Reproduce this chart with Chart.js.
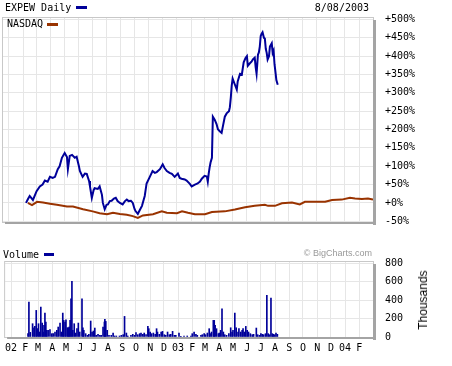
<!DOCTYPE html>
<html>
<head>
<meta charset="utf-8">
<script src="https://cdn.jsdelivr.net/npm/chart.js@4.4.0/dist/chart.umd.min.js"></script>
<style>
body{margin:0;background:#fff;}
#wrap{position:relative;width:452px;height:366px;overflow:hidden;font-family:'DejaVu Sans Mono',monospace;font-size:10px;color:#000;}
canvas{position:absolute;left:0;}
.t{position:absolute;white-space:nowrap;line-height:12px;}
.dash{position:absolute;height:3px;}
</style>
</head>
<body>
<div id="wrap">
  <canvas id="main" width="452" height="240" style="top:0"></canvas>
  <canvas id="vol" width="452" height="126" style="top:240px"></canvas>
  <div class="t" style="left:5px;top:2px">EXPEW Daily</div>
  <div class="dash" style="left:76px;top:6px;width:11px;background:#000099"></div>
  <div class="t" style="right:83px;top:2px">8/08/2003</div>
  <div class="t" style="left:7px;top:18px">NASDAQ</div>
  <div class="dash" style="left:47px;top:23px;width:11px;background:#993300"></div>
  <div class="t" style="left:3px;top:249px">Volume</div>
  <div class="dash" style="left:44px;top:253px;width:10px;background:#000099"></div>
  <div class="t" style="right:80px;top:247px;font-family:'Liberation Sans',sans-serif;font-size:9px;color:#999">© BigCharts.com</div>
  <div class="t" style="left:423px;top:300px;font-family:'Liberation Sans',sans-serif;font-size:12px;transform:translate(-50%,-50%) rotate(-90deg)">Thousands</div>
</div>
<script>
// price change vs first day, in percent
const expewDates = [
  '2002-02-07','2002-02-11','2002-02-15','2002-02-22','2002-02-26','2002-03-02','2002-03-09','2002-03-15',
  '2002-03-20','2002-03-26','2002-03-31','2002-04-06','2002-04-11','2002-04-17','2002-04-21','2002-04-26',
  '2002-05-02','2002-05-07','2002-05-09','2002-05-13','2002-05-18','2002-05-24','2002-05-28','2002-06-02',
  '2002-06-04','2002-06-10','2002-06-15','2002-06-19','2002-06-24','2002-06-26','2002-06-30','2002-07-04',
  '2002-07-06','2002-07-13','2002-07-17','2002-07-22','2002-07-24','2002-07-28','2002-08-01','2002-08-04',
  '2002-08-08','2002-08-12','2002-08-17','2002-08-21','2002-08-25','2002-08-30','2002-09-05','2002-09-10',
  '2002-09-14','2002-09-18','2002-09-23','2002-09-27','2002-10-01','2002-10-03','2002-10-08','2002-10-12',
  '2002-10-17','2002-10-21','2002-10-23','2002-10-27','2002-11-03','2002-11-09','2002-11-14','2002-11-18',
  '2002-11-25','2002-12-01','2002-12-05','2002-12-10','2002-12-16','2002-12-21','2002-12-27','2003-01-03',
  '2003-01-07','2003-01-11','2003-01-18','2003-01-22','2003-01-29','2003-02-02','2003-02-09','2003-02-15',
  '2003-02-20','2003-02-24','2003-03-02','2003-03-07','2003-03-09','2003-03-11','2003-03-13','2003-03-15',
  '2003-03-18','2003-03-20','2003-03-24','2003-03-28','2003-03-31','2003-04-04','2003-04-08','2003-04-11',
  '2003-04-15','2003-04-19','2003-04-24','2003-04-26','2003-04-28','2003-04-30','2003-05-02','2003-05-07',
  '2003-05-11','2003-05-13','2003-05-18','2003-05-22','2003-05-26','2003-05-30','2003-06-02','2003-06-04',
  '2003-06-08','2003-06-12','2003-06-15','2003-06-19','2003-06-21','2003-06-23','2003-06-26','2003-06-28',
  '2003-06-30','2003-07-02','2003-07-04','2003-07-06','2003-07-09','2003-07-11','2003-07-13','2003-07-15',
  '2003-07-17','2003-07-20','2003-07-22','2003-07-26','2003-07-28','2003-07-30','2003-08-01','2003-08-03',
  '2003-08-05','2003-08-08'
];
const expewPct = [
  0, 10, 19, 8, 20, 32, 45, 50,
  61, 58, 71, 68, 71, 92, 100, 123,
  136, 125, 92, 128, 131, 123, 126, 100,
  87, 71, 80, 79, 60, 45, 14, 35,
  40, 38, 45, 22, 0, -17, -5, -4,
  5, 6, 12, 14, 5, 0, -4, 5,
  9, 5, 6, 0, -17, -22, -30, -20,
  -8, 10, 19, 53, 71, 87, 82, 84,
  92, 105, 95, 87, 82, 79, 71, 80,
  68, 66, 64, 61, 52, 45, 50, 53,
  58, 66, 74, 72, 58, 80, 97, 110,
  123, 235, 227, 215, 201, 195, 191, 210,
  235, 244, 250, 261, 287, 320, 339, 322,
  309, 331, 352, 350, 383, 395, 400, 374,
  380, 385, 391, 396, 370, 352, 404, 410,
  426, 455, 461, 465, 450, 448, 420, 409,
  391, 400, 426, 435, 409, 415, 378, 357,
  335, 322
];

const nasdaqDates = [
  '2002-02-11','2002-02-20','2002-03-03','2002-03-16','2002-03-31','2002-04-15','2002-05-07','2002-05-20',
  '2002-06-11','2002-07-02','2002-07-17','2002-08-02','2002-08-15','2002-08-30','2002-09-14','2002-09-27',
  '2002-10-08','2002-10-19','2002-11-10','2002-11-29','2002-12-10','2003-01-01','2003-01-12','2003-01-25',
  '2003-02-09','2003-03-03','2003-03-18','2003-04-15','2003-05-07','2003-05-29','2003-06-19','2003-07-11',
  '2003-07-18','2003-08-02','2003-08-17','2003-09-08','2003-09-25','2003-10-06','2003-10-28','2003-11-19',
  '2003-12-04','2003-12-25','2004-01-12','2004-01-23','2004-02-07','2004-02-20','2004-03-02'
];
const nasdaqPct = [
  0, -6, 3, 1, -2, -5, -10, -10,
  -17, -23, -28, -31, -27, -30, -32, -36,
  -41, -34, -31, -23, -27, -28, -23, -27,
  -31, -31, -25, -23, -18, -12, -8, -5,
  -8, -8, -1, 1, -4, 3, 3, 3,
  8, 9, 14, 12, 11, 12, 9
];

// volume in thousands of shares
const volDates = [
  '2002-02-07','2002-02-09','2002-02-12','2002-02-17','2002-02-20','2002-02-22','2002-02-25','2002-02-27',
  '2002-03-02','2002-03-04','2002-03-07','2002-03-10','2002-03-12','2002-03-14','2002-03-16','2002-03-18',
  '2002-03-20','2002-03-23','2002-03-27','2002-03-31','2002-04-03','2002-04-07','2002-04-11','2002-04-14',
  '2002-04-18','2002-04-21','2002-04-24','2002-04-26','2002-04-29','2002-05-01','2002-05-04','2002-05-06',
  '2002-05-08','2002-05-10','2002-05-12','2002-05-14','2002-05-16','2002-05-19','2002-05-22','2002-05-25',
  '2002-05-28','2002-05-31','2002-06-05','2002-06-07','2002-06-09','2002-06-13','2002-06-17','2002-06-20',
  '2002-06-24','2002-06-27','2002-06-30','2002-07-03','2002-07-06','2002-07-10','2002-07-14','2002-07-17',
  '2002-07-21','2002-07-24','2002-07-25','2002-07-27','2002-07-30','2002-08-03','2002-08-08','2002-08-12',
  '2002-08-15','2002-08-19','2002-08-26','2002-08-30','2002-09-03','2002-09-06','2002-09-10','2002-09-13',
  '2002-09-20','2002-09-24','2002-09-28','2002-10-01','2002-10-05','2002-10-09','2002-10-12','2002-10-16',
  '2002-10-19','2002-10-23','2002-10-27','2002-10-29','2002-11-01','2002-11-04','2002-11-08','2002-11-12',
  '2002-11-15','2002-11-17','2002-11-21','2002-11-25','2002-11-28','2002-12-02','2002-12-05','2002-12-09',
  '2002-12-13','2002-12-16','2002-12-20','2002-12-24','2002-12-27','2003-01-03','2003-01-07','2003-01-14',
  '2003-01-21','2003-01-29','2003-02-01','2003-02-05','2003-02-09','2003-02-12','2003-02-20','2003-02-23',
  '2003-02-27','2003-03-02','2003-03-06','2003-03-10','2003-03-12','2003-03-15','2003-03-19','2003-03-21',
  '2003-03-23','2003-03-26','2003-03-30','2003-04-01','2003-04-04','2003-04-07','2003-04-10','2003-04-13',
  '2003-04-17','2003-04-22','2003-04-26','2003-04-29','2003-05-01','2003-05-05','2003-05-08','2003-05-12',
  '2003-05-14','2003-05-18','2003-05-21','2003-05-23','2003-05-26','2003-05-29','2003-06-01','2003-06-04',
  '2003-06-08','2003-06-12','2003-06-15','2003-06-21','2003-06-24','2003-06-28','2003-07-01','2003-07-04',
  '2003-07-07','2003-07-11','2003-07-14','2003-07-17','2003-07-20','2003-07-23','2003-07-26','2003-07-28',
  '2003-07-31','2003-08-03','2003-08-06'
];
const volThousands = [
  36, 378, 50, 144, 100, 115, 288, 90,
  144, 54, 324, 151, 54, 126, 259, 162,
  72, 72, 79, 36, 36, 54, 72, 108,
  151, 54, 259, 180, 162, 187, 100, 100,
  108, 180, 414, 602, 72, 144, 43, 90,
  151, 54, 414, 100, 72, 36, 18, 29,
  173, 54, 65, 97, 18, 29, 18, 18,
  108, 162, 191, 169, 72, 18, 18, 43,
  11, 11, 11, 18, 25, 223, 43, 11,
  18, 29, 18, 47, 25, 36, 43, 29,
  43, 25, 115, 90, 54, 36, 43, 29,
  90, 54, 29, 54, 61, 25, 18, 54,
  25, 29, 61, 18, 18, 43, 7, 11,
  11, 11, 36, 54, 29, 18, 18, 25,
  36, 25, 43, 90, 36, 54, 180, 180,
  126, 90, 36, 43, 72, 306, 54, 25,
  18, 36, 100, 54, 72, 259, 100, 54,
  90, 54, 72, 90, 54, 115, 72, 54,
  36, 25, 29, 97, 25, 18, 36, 29,
  25, 36, 450, 36, 25, 421, 36, 29,
  25, 43, 29
];

const pctTicks = [-50, 0, 50, 100, 150, 200, 250, 300, 350, 400, 450, 500];
const volTicks = [0, 200, 400, 600, 800];
const monthLabels = ['02','F','M','A','M','J','J','A','S','O','N','D',
                     '03','F','M','A','M','J','J','A','S','O','N','D',
                     '04','F'];

const base = Date.UTC(2002, 0, 1);
const day = s => (Date.parse(s) - base) / 864e5;
const monthTicks = monthLabels.map((_, i) => (Date.UTC(2002, i, 1) - base) / 864e5);

Chart.defaults.font.family = "'DejaVu Sans Mono', monospace";
Chart.defaults.font.size = 10;
Chart.defaults.color = '#000';

const BLUE = '#000099';
const BROWN = '#993300';
const GRID = '#e6e6e6';

const frame = {
  id: 'frame',
  beforeDraw(chart) {
    const { ctx, chartArea: a } = chart;
    ctx.save();
    ctx.fillStyle = '#fff';
    ctx.fillRect(a.left, a.top, a.right - a.left, a.bottom - a.top);
    ctx.restore();
  },
  afterDraw(chart) {
    const { ctx, chartArea: a } = chart;
    ctx.save();
    ctx.strokeStyle = '#c8c8c8';
    ctx.lineWidth = 1;
    ctx.strokeRect(a.left - 0.5, a.top - 0.5, a.right - a.left + 1, a.bottom - a.top + 1);
    ctx.fillStyle = '#a4a4a4';
    ctx.fillRect(a.right, a.top + 2, 3, a.bottom - a.top + 1);
    ctx.fillRect(a.left + 2, a.bottom, a.right - a.left + 1, 2);
    ctx.restore();
  }
};

function xAxis(showLabels) {
  return {
    type: 'linear', min: -13, max: 791, offset: false,
    afterBuildTicks: s => { s.ticks = monthTicks.map(v => ({ value: v })); },
    afterFit: s => { s.height = showLabels ? 20 : 0; },
    grid: { color: GRID, drawTicks: false, offset: false },
    border: { display: false },
    ticks: { display: showLabels, autoSkip: false, maxRotation: 0, padding: 5,
             callback: (v, i) => monthLabels[i] }
  };
}

function yAxis(min, max, ticks, fmt) {
  return {
    position: 'right', min: min, max: max,
    afterBuildTicks: s => { s.ticks = ticks.map(v => ({ value: v })); },
    afterFit: s => { s.width = 79; },
    grid: { color: GRID, drawTicks: false },
    border: { display: false },
    ticks: { padding: 12, callback: fmt }
  };
}

new Chart(document.getElementById('main'), {
  type: 'line',
  data: {
    datasets: [
      { label: 'EXPEW Daily', data: expewDates.map((d, i) => ({ x: day(d), y: expewPct[i] })),
        borderColor: BLUE, borderWidth: 2, pointRadius: 0, tension: 0 },
      { label: 'NASDAQ', data: nasdaqDates.map((d, i) => ({ x: day(d), y: nasdaqPct[i] })),
        borderColor: BROWN, borderWidth: 2, pointRadius: 0, tension: 0 }
    ]
  },
  options: {
    responsive: false, animation: false, devicePixelRatio: 1,
    layout: { padding: { left: 3, top: 16, right: 0, bottom: 10 } },
    plugins: { legend: { display: false }, tooltip: { enabled: false } },
    scales: {
      x: xAxis(false),
      y: yAxis(-52, 504, pctTicks, v => (v >= 0 ? '+' : '') + v + '%')
    }
  },
  plugins: [frame]
});

new Chart(document.getElementById('vol'), {
  type: 'bar',
  data: {
    datasets: [
      { label: 'Volume', data: volDates.map((d, i) => ({ x: day(d), y: volThousands[i] })),
        backgroundColor: BLUE, borderWidth: 0, barThickness: 1 }
    ]
  },
  options: {
    responsive: false, animation: false, devicePixelRatio: 1,
    layout: { padding: { left: 3, top: 22, right: 0, bottom: 9 } },
    plugins: { legend: { display: false }, tooltip: { enabled: false } },
    scales: {
      x: xAxis(true),
      y: yAxis(0, 812, volTicks, v => String(v))
    }
  },
  plugins: [frame]
});
</script>
</body>
</html>
